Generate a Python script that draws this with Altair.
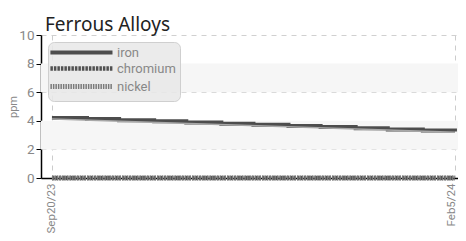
import altair as alt
import pandas as pd

# ---- data ----
step_dates = ["2023-09-20", "2023-10-02", "2023-10-13", "2023-10-25", "2023-11-05",
              "2023-11-17", "2023-11-28", "2023-12-10", "2023-12-21", "2024-01-02",
              "2024-01-13", "2024-01-25", "2024-02-05"]
iron = [4.20, 4.12, 4.04, 3.96, 3.88, 3.80, 3.72, 3.64, 3.56, 3.48, 3.40, 3.32, 3.25]
chromium = [0] * 13
nickel = [0] * 13
trend_dates = ["2023-09-20", "2024-02-05"]
trend_iron = [4.12, 3.20]
band_lo = [2, 6]
band_hi = [4, 8]
series = ["iron", "chromium", "nickel"]

rows = []
for name, vals in zip(series, [iron, chromium, nickel]):
    for d, v in zip(step_dates, vals):
        rows.append({"date": d + "T00:00:00", "metal": name, "ppm": v})
df = pd.DataFrame(rows)
trend = pd.DataFrame({"date": [d + "T00:00:00" for d in trend_dates], "ppm": trend_iron})
bands = pd.DataFrame({"lo": band_lo, "hi": band_hi})

LABEL_FONT = "Roboto"

xscale = alt.Scale(domain=[alt.DateTime(year=2023, month=9, date=16, hours=6),
                           alt.DateTime(year=2024, month=2, date=6, hours=1)])
yscale = alt.Scale(domain=[0, 10], nice=False)

xaxis = alt.Axis(
    values=[alt.DateTime(year=2023, month=9, date=20), alt.DateTime(year=2024, month=2, date=5)],
    format="%b%-d/%y", labelAngle=270, labelAlign="right",
    labelBaseline={"condition": {"test": "datum.value > 1700000000000", "value": "alphabetic"},
                   "value": "middle"},
    labelColor="#888", labelFont=LABEL_FONT, labelFontSize=11.5, labelPadding=5,
    labelOverlap=False, grid=True, gridDash=[5, 5], gridColor="#cccccc", ticks=False,
    domainColor="#000", domainWidth=1.5, title=None,
)
yaxis = alt.Axis(
    values=[0, 2, 4, 6, 8, 10], labelColor="#888", labelFont=LABEL_FONT, labelFontSize=13.5,
    labelOverlap=False, labelPadding=2,
    tickColor="#000", tickSize=5, domainColor="#000", domainWidth=1.5,
    grid=True, gridDash=[5, 5], gridColor="#d0d0d0",
    title="ppm", titleColor="#888", titleFont=LABEL_FONT, titleFontSize=11,
    titleFontWeight="normal", titlePadding=0,
)

band_layer = alt.Chart(bands).mark_rect(color="#f6f6f6").encode(
    y=alt.Y("lo:Q", scale=yscale, axis=yaxis), y2="hi:Q"
)

lines = alt.Chart(df).mark_line(interpolate="step-after").encode(
    x=alt.X("date:T", scale=xscale, axis=xaxis),
    y=alt.Y("ppm:Q", scale=yscale, axis=yaxis),
    color=alt.Color("metal:N", sort=series,
                    scale=alt.Scale(domain=series, range=["#4d4d4d", "#505050", "#7a7a7a"]),
                    legend=alt.Legend(
                        orient="top-left", offset=7, title=None,
                        symbolType="M-2.7,0H18", symbolSize=36, labelOffset=52,
                        fillColor="rgba(232,232,232,0.85)", strokeColor="#cfcfcf",
                        cornerRadius=6, padding=4, rowPadding=-2,
                        labelFont=LABEL_FONT, labelFontSize=13, labelColor="#888")),
    strokeDash=alt.StrokeDash("metal:N", sort=series,
                              scale=alt.Scale(domain=series, range=[[1, 0], [2.5, 1], [1.5, 1]])),
    strokeWidth=alt.StrokeWidth("metal:N", sort=series,
                                scale=alt.Scale(domain=series, range=[4, 5, 2.5])),
    order=alt.Order("metal:N"),
)

trend_layer = alt.Chart(trend).mark_line(color="#a8a8a8", strokeWidth=1.5).encode(
    x=alt.X("date:T", scale=xscale, axis=xaxis), y=alt.Y("ppm:Q", scale=yscale, axis=yaxis)
)

chart = alt.layer(band_layer, lines, trend_layer).properties(
    width=417, height=143,
    title=alt.TitleParams("Ferrous Alloys", anchor="start", frame="group", font="Noto Sans",
                          fontSize=19, fontWeight="normal", color="#222", dx=4,
                          offset=0, dy=6.5),
    autosize=alt.AutoSizeParams(type="none"),
    padding={"left": 33, "top": 27, "right": 0, "bottom": 55},
).configure_view(stroke=None)

chart.save("out.html", embed_options={"renderer": "svg", "actions": False})
